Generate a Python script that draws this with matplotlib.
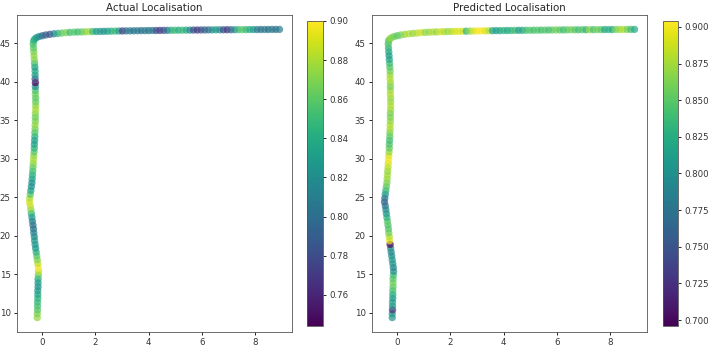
import matplotlib
matplotlib.use("Agg")
import matplotlib.pyplot as plt
import numpy as np

# trajectory: vertical leg, bend, horizontal leg
y_vert = [9.4, 9.9, 10.4, 10.9, 11.4, 11.9, 12.4, 12.9, 13.4, 13.9,
          14.4, 14.9, 15.4, 15.9, 16.4, 16.9, 17.4, 17.9, 18.4, 18.9,
          19.4, 19.9, 20.4, 20.9, 21.4, 21.9, 22.4, 22.9, 23.4, 23.9,
          24.4, 24.9, 25.4, 25.9, 26.4, 26.9, 27.4, 27.9, 28.4, 28.9,
          29.4, 29.9, 30.4, 30.9, 31.4, 31.9, 32.4, 32.9, 33.4, 33.9,
          34.4, 34.9, 35.4, 35.9, 36.4, 36.9, 37.4, 37.9, 38.4, 38.9,
          39.4, 39.9, 40.4, 40.9, 41.4, 41.9, 42.4, 42.9, 43.4, 43.9,
          44.4, 44.9]
x_vert = [-0.17, -0.17, -0.16, -0.16, -0.16, -0.15, -0.15, -0.15, -0.14, -0.14,
          -0.14, -0.13, -0.12, -0.13, -0.15, -0.17, -0.19, -0.21, -0.23, -0.25,
          -0.27, -0.28, -0.30, -0.31, -0.33, -0.35, -0.37, -0.39, -0.41, -0.43,
          -0.46, -0.45, -0.43, -0.41, -0.39, -0.37, -0.36, -0.35, -0.34, -0.33,
          -0.32, -0.31, -0.30, -0.29, -0.28, -0.28, -0.27, -0.26, -0.26, -0.25,
          -0.25, -0.24, -0.24, -0.24, -0.23, -0.23, -0.23, -0.23, -0.24, -0.24,
          -0.24, -0.24, -0.25, -0.25, -0.25, -0.26, -0.27, -0.28, -0.29, -0.30,
          -0.31, -0.32]

x_bend = [-0.31, -0.27, -0.20, -0.10, 0.02, 0.15, 0.30, 0.45, 0.60, 0.75, 0.90, 1.05]
y_bend = [45.30, 45.55, 45.75, 45.90, 46.00, 46.10, 46.18, 46.25, 46.30, 46.35, 46.40, 46.43]

x_horiz = [1.20, 1.34, 1.48, 1.62, 1.76, 1.90, 2.04, 2.18, 2.32, 2.46,
           2.60, 2.74, 2.88, 3.02, 3.16, 3.30, 3.44, 3.58, 3.72, 3.86,
           4.00, 4.14, 4.28, 4.42, 4.56, 4.70, 4.84, 4.98, 5.12, 5.26,
           5.40, 5.54, 5.68, 5.82, 5.96, 6.10, 6.24, 6.38, 6.52, 6.66,
           6.80, 6.94, 7.08, 7.22, 7.36, 7.50, 7.64, 7.78, 7.92, 8.06,
           8.20, 8.34, 8.48, 8.62, 8.76, 8.90]
y_horiz = [46.46, 46.48, 46.49, 46.51, 46.52, 46.54, 46.55, 46.56, 46.57, 46.58,
           46.59, 46.60, 46.61, 46.62, 46.63, 46.63, 46.64, 46.65, 46.66, 46.66,
           46.67, 46.68, 46.68, 46.69, 46.70, 46.70, 46.71, 46.71, 46.72, 46.72,
           46.73, 46.73, 46.74, 46.74, 46.75, 46.75, 46.76, 46.76, 46.77, 46.77,
           46.77, 46.78, 46.78, 46.78, 46.79, 46.79, 46.79, 46.80, 46.80, 46.80,
           46.81, 46.81, 46.81, 46.82, 46.82, 46.82]

# actual localisation values
act_vert = [0.875, 0.87, 0.86, 0.855, 0.85, 0.845, 0.835, 0.83, 0.825, 0.83,
            0.835, 0.86, 0.885, 0.90, 0.885, 0.87, 0.86, 0.845, 0.83, 0.825,
            0.83, 0.82, 0.815, 0.805, 0.80, 0.81, 0.825, 0.84, 0.87, 0.885,
            0.89, 0.88, 0.86, 0.835, 0.825, 0.82, 0.83, 0.84, 0.85, 0.86,
            0.87, 0.88, 0.875, 0.86, 0.845, 0.835, 0.83, 0.84, 0.855, 0.865,
            0.875, 0.87, 0.865, 0.87, 0.88, 0.875, 0.865, 0.86, 0.865, 0.855,
            0.82, 0.744, 0.78, 0.83, 0.84, 0.83, 0.85, 0.87, 0.875, 0.87,
            0.86, 0.855]
act_bend = [0.85, 0.84, 0.83, 0.82, 0.80, 0.79, 0.78, 0.81, 0.84, 0.86, 0.87, 0.85]
act_horiz = [0.86, 0.85, 0.86, 0.87, 0.88, 0.85, 0.83, 0.83, 0.82, 0.83,
             0.84, 0.85, 0.83, 0.77, 0.80, 0.81, 0.80, 0.81, 0.80, 0.81,
             0.80, 0.81, 0.78, 0.77, 0.78, 0.80, 0.84, 0.85, 0.84, 0.85,
             0.84, 0.82, 0.78, 0.77, 0.78, 0.79, 0.80, 0.82, 0.83, 0.82,
             0.78, 0.77, 0.79, 0.82, 0.85, 0.86, 0.85, 0.84, 0.83, 0.81,
             0.80, 0.81, 0.80, 0.81, 0.80, 0.81]

# predicted localisation values
pred_vert = [0.80, 0.81, 0.72, 0.80, 0.82, 0.805, 0.82, 0.84, 0.85, 0.86,
             0.85, 0.84, 0.80, 0.79, 0.80, 0.81, 0.80, 0.79, 0.80, 0.696,
             0.895, 0.88, 0.86, 0.85, 0.845, 0.85, 0.83, 0.81, 0.80, 0.78,
             0.76, 0.77, 0.80, 0.83, 0.85, 0.86, 0.87, 0.875, 0.87, 0.88,
             0.89, 0.90, 0.895, 0.87, 0.855, 0.845, 0.84, 0.85, 0.86, 0.875,
             0.88, 0.87, 0.865, 0.86, 0.87, 0.88, 0.875, 0.87, 0.88, 0.875,
             0.86, 0.87, 0.88, 0.875, 0.86, 0.85, 0.84, 0.82, 0.81, 0.82,
             0.83, 0.845]
pred_bend = [0.85, 0.86, 0.87, 0.86, 0.85, 0.86, 0.87, 0.88, 0.87, 0.88, 0.89, 0.87]
pred_horiz = [0.87, 0.88, 0.87, 0.89, 0.88, 0.87, 0.88, 0.89, 0.895, 0.89,
              0.83, 0.87, 0.89, 0.90, 0.904, 0.895, 0.88, 0.82, 0.81, 0.82,
              0.83, 0.82, 0.83, 0.84, 0.81, 0.82, 0.84, 0.85, 0.84, 0.85,
              0.84, 0.85, 0.84, 0.85, 0.86, 0.85, 0.84, 0.85, 0.86, 0.85,
              0.84, 0.85, 0.83, 0.87, 0.84, 0.86, 0.85, 0.82, 0.83, 0.82,
              0.86, 0.87, 0.88, 0.86, 0.84, 0.82]

x = np.array(x_vert + x_bend + x_horiz)
y = np.array(y_vert + y_bend + y_horiz)
c_act = np.array(act_vert + act_bend + act_horiz)
c_pred = np.array(pred_vert + pred_bend + pred_horiz)

plt.rcParams['font.size'] = 6.2
plt.rcParams['text.color'] = '#262626'
plt.rcParams['xtick.labelcolor'] = '#333333'
plt.rcParams['ytick.labelcolor'] = '#333333'
plt.rcParams['axes.linewidth'] = 0.6
plt.rcParams['xtick.major.width'] = 0.6
plt.rcParams['ytick.major.width'] = 0.6
plt.rcParams['xtick.major.size'] = 2.5
plt.rcParams['ytick.major.size'] = 2.5
plt.rcParams['xtick.major.pad'] = 2
plt.rcParams['ytick.major.pad'] = 2

W, H = 708, 346
fig = plt.figure(figsize=(W / 100, H / 100), dpi=100)

def px_axes(x0, y0, x1, y1):
  # pixel box (top-left origin) -> figure fraction
  return fig.add_axes([x0 / W, 1 - y1 / H, (x1 - x0) / W, (y1 - y0) / H])

panels = [
  ("Actual Localisation", c_act, (17, 15, 292, 332), (307, 21, 323, 326), [0.76, 0.78, 0.80, 0.82, 0.84, 0.86, 0.88, 0.90], "%.2f"),
  ("Predicted Localisation", c_pred, (372, 15, 647, 332), (663, 21, 678, 326), [0.700, 0.725, 0.750, 0.775, 0.800, 0.825, 0.850, 0.875, 0.900], "%.3f"),
]

for title, c, box, cbox, cticks, fmt in panels:
  ax = px_axes(*box)
  sc = ax.scatter(x, y, c=c, cmap='viridis', s=28, alpha=0.7, linewidths=0)
  ax.set_title(title, fontsize=7.4, pad=3)
  ax.set_xticks([0, 2, 4, 6, 8])
  ax.set_yticks([10, 15, 20, 25, 30, 35, 40, 45])
  for s in ax.spines.values():
    s.set_color('#555555')
  cax = px_axes(*cbox)
  cb = fig.colorbar(sc, cax=cax, ticks=cticks, format=fmt)
  cb.outline.set_linewidth(0.6)
  cb.outline.set_edgecolor('#555555')
  cb.solids.set_alpha(1)

fig.savefig("out.png", dpi=100)
